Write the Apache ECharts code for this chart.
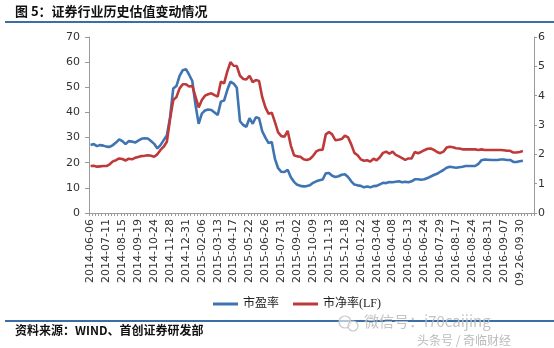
<!DOCTYPE html>
<html>
<head>
<meta charset="utf-8">
<script src="https://cdn.jsdelivr.net/npm/echarts@6/dist/echarts.min.js"></script>
<style>
  html, body { margin: 0; padding: 0; background: #fff; }
  #chart { width: 554px; height: 348px; }
</style>
</head>
<body>
<div id="chart"></div>
<script>
// Axis labels shown every fifth category
const tickLabels = [
  '2014-06-06', '2014-07-11', '2014-08-15', '2014-09-19', '2014-10-24', '2014-11-28', '2014-12-31',
  '2015-02-06', '2015-03-13', '2015-04-17', '2015-05-22', '2015-06-26', '2015-07-31', '2015-09-02',
  '2015-10-09', '2015-11-13', '2015-12-18', '2016-01-22', '2016-03-04', '2016-04-08', '2016-05-13',
  '2016-06-24', '2016-07-29', '2016-08-17', '2016-08-24', '2016-08-31', '2016-09-07', '09.26-09.30'
];
const labelStep = 5;
const categoryCount = 140;
const categories = Array.from({ length: categoryCount }, (_, i) => String(i));

// 市盈率 (left axis)
const peValues = [
  27.0, 27.4, 26.6, 27.0, 26.8, 26.4, 26.3, 27.0, 28.0, 29.3,
  28.6, 27.4, 28.6, 28.4, 28.0, 28.8, 29.5, 29.7, 29.6, 28.6,
  27.5, 25.7, 27.0, 29.0, 30.8, 38.0, 49.5, 50.5, 54.5, 56.8,
  57.2, 55.0, 52.5, 43.0, 35.5, 39.5, 40.8, 41.2, 41.0, 40.0,
  39.0, 44.3, 44.7, 48.9, 52.2, 51.5, 49.8, 36.5, 35.0, 34.3,
  37.7, 35.5, 38.1, 37.7, 32.5, 30.0, 27.8, 28.2, 21.5, 17.8,
  16.4, 16.3, 17.2, 14.2, 12.4, 11.2, 10.8, 10.6, 10.7, 11.0,
  12.0, 12.6, 13.0, 13.3, 15.8, 15.9, 14.8, 14.3, 14.6, 15.2,
  15.4, 14.3, 12.6, 11.3, 11.0, 10.8, 10.2, 10.5, 10.2, 10.7,
  10.8, 11.4, 12.0, 11.9, 12.3, 12.2, 12.4, 12.6, 12.2, 12.4,
  12.2, 12.6, 13.4, 13.4, 13.2, 13.4, 13.9, 14.5, 15.1, 15.6,
  16.4, 17.1, 18.0, 18.4, 18.2, 18.0, 18.2, 18.4, 18.7, 18.7,
  18.7, 18.7, 19.5, 21.0, 21.3, 21.2, 21.1, 21.1, 21.1, 21.3,
  21.3, 21.1, 21.1, 20.3, 20.3, 20.6, 20.8
];

// 市净率(LF) (right axis)
const pbValues = [
  1.60, 1.61, 1.58, 1.59, 1.60, 1.60, 1.66, 1.76, 1.80, 1.86,
  1.84, 1.79, 1.85, 1.83, 1.88, 1.91, 1.94, 1.95, 1.97, 1.95,
  1.92, 2.00, 2.15, 2.26, 2.43, 3.20, 3.85, 3.95, 4.25, 4.39,
  4.39, 4.31, 4.33, 3.97, 3.60, 3.85, 4.00, 4.05, 4.08, 4.02,
  3.97, 4.48, 4.42, 4.82, 5.14, 5.02, 5.01, 4.68, 4.57, 4.55,
  4.68, 4.46, 4.53, 4.50, 3.95, 3.60, 3.38, 3.42, 3.10, 2.75,
  2.62, 2.60, 2.80, 2.30, 1.97, 1.93, 1.92, 1.83, 1.81, 1.84,
  1.95, 2.10, 2.15, 2.16, 2.68, 2.76, 2.68, 2.48, 2.50, 2.52,
  2.64, 2.58, 2.34, 2.05, 1.97, 1.83, 1.78, 1.80, 1.75, 1.85,
  1.80, 1.90, 2.05, 2.09, 2.02, 2.09, 1.98, 1.93, 1.87, 1.81,
  1.86, 1.86, 2.08, 2.04, 2.08, 2.14, 2.19, 2.20, 2.15, 2.08,
  2.04, 2.09, 2.23, 2.26, 2.24, 2.21, 2.20, 2.17, 2.17, 2.17,
  2.17, 2.17, 2.15, 2.17, 2.15, 2.15, 2.15, 2.15, 2.15, 2.15,
  2.14, 2.12, 2.12, 2.06, 2.06, 2.08, 2.11
];

const blue = '#3f74b3';
const red = '#be3a3a';
const axisGray = '#9a9a9a';
const labelFont = { fontFamily: 'DejaVu Sans', fontSize: 11, color: '#333' };

const chart = echarts.init(document.getElementById('chart'), null, { renderer: 'canvas' });

chart.setOption({
  animation: false,
  backgroundColor: '#fff',
  grid: { left: 89, right: 20, top: 37, bottom: 135, containLabel: false, outerBoundsMode: 'none' },
  legend: {
    left: 208,
    top: 293,
    itemWidth: 25,
    itemHeight: 3,
    itemGap: 14,
    icon: 'rect',
    textStyle: { fontFamily: 'Liberation Serif, Noto Sans CJK SC', fontSize: 12, color: '#222' },
    data: ['市盈率', '市净率(LF)']
  },
  xAxis: {
    type: 'category',
    data: categories,
    boundaryGap: true,
    axisLine: { lineStyle: { color: axisGray, width: 1 } },
    axisTick: { show: true, interval: 0, length: 3, lineStyle: { color: axisGray } },
    axisLabel: Object.assign({}, labelFont, {
      interval: labelStep - 1,
      rotate: 90,
      margin: 6,
      formatter: (value, index) => (index % labelStep === 0 ? (tickLabels[index / labelStep] || '') : '')
    }),
    splitLine: { show: false }
  },
  yAxis: [
    {
      type: 'value',
      min: 0, max: 70, interval: 10,
      axisLine: { show: true, lineStyle: { color: axisGray } },
      axisTick: { show: true, length: 4, lineStyle: { color: axisGray } },
      axisLabel: Object.assign({}, labelFont, { margin: 9 }),
      splitLine: { show: false }
    },
    {
      type: 'value',
      position: 'right',
      min: 0, max: 6, interval: 1,
      axisLine: { show: true, lineStyle: { color: axisGray } },
      axisTick: { show: true, length: 3, lineStyle: { color: axisGray } },
      axisLabel: Object.assign({}, labelFont, { margin: 4 }),
      splitLine: { show: false }
    }
  ],
  series: [
    {
      name: '市盈率',
      type: 'line',
      yAxisIndex: 0,
      data: peValues,
      showSymbol: false,
      symbol: 'none',
      lineStyle: { color: blue, width: 2.6 },
      itemStyle: { color: blue }
    },
    {
      name: '市净率(LF)',
      type: 'line',
      yAxisIndex: 1,
      data: pbValues,
      showSymbol: false,
      symbol: 'none',
      lineStyle: { color: red, width: 2.6 },
      itemStyle: { color: red }
    }
  ],
  graphic: [
    {
      type: 'text', left: 15, top: 5,
      style: { text: '图 5：证券行业历史估值变动情况', font: 'bold 13px "Noto Sans CJK SC"', fill: '#111' }
    },
    {
      type: 'line', shape: { x1: 5, y1: 22, x2: 554, y2: 22 },
      style: { stroke: '#3a6ea5', lineWidth: 2 }
    },
    {
      type: 'line', shape: { x1: 5, y1: 321, x2: 554, y2: 321 },
      style: { stroke: '#3a6ea5', lineWidth: 2 }
    },
    {
      type: 'text', left: 15, top: 324,
      style: { text: '资料来源：WIND、首创证券研发部', font: 'bold 12px "Noto Sans CJK SC"', fill: '#111' }
    },
    {
      type: 'circle', shape: { cx: 345, cy: 322, r: 6 },
      style: { fill: 'rgba(255,255,255,0.6)', stroke: '#c8c8c8', lineWidth: 1.2 }
    },
    {
      type: 'circle', shape: { cx: 353, cy: 326, r: 5 },
      style: { fill: 'rgba(255,255,255,0.6)', stroke: '#c8c8c8', lineWidth: 1.2 }
    },
    {
      type: 'text', left: 364, top: 314,
      style: { text: '微信号：i70caijing', font: '15px "Noto Sans CJK SC"', fill: 'rgba(190,190,190,0.9)' }
    },
    {
      type: 'text', left: 417, top: 334,
      style: { text: '头条号 / 奇临财经', font: '12px "Noto Sans CJK SC"', fill: 'rgba(180,180,180,0.9)' }
    }
  ]
});
</script>
</body>
</html>
